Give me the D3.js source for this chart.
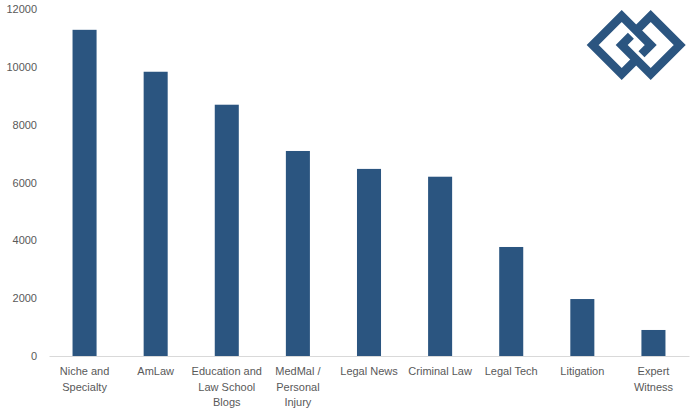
<!DOCTYPE html>
<html>
<head>
<meta charset="utf-8">
<script src="https://cdn.jsdelivr.net/npm/d3@7"></script>
<style>
    body { margin: 0; background: #fff; }
    .axis text { font-family: "Liberation Sans", Arial, sans-serif; font-size: 11px; fill: #595959; }
</style>
</head>
<body>
<div id="chart"></div>
<script>
var categories = ["Niche and\nSpecialty", "AmLaw", "Education and\nLaw School\nBlogs", "MedMal /\nPersonal\nInjury",
    "Legal News", "Criminal Law", "Legal Tech", "Litigation", "Expert\nWitness"];
var values = [11280, 9830, 8690, 7090, 6470, 6200, 3770, 1970, 900];
var yTicks = [0, 2000, 4000, 6000, 8000, 10000, 12000];

var width = 698, height = 411;
var barColor = "#2b5580";

var svg = d3.select("#chart").append("svg")
    .attr("width", width)
    .attr("height", height);

var x = d3.scaleBand()
    .domain(categories)
    .range([49, 689])
    .paddingInner(0.662)
    .paddingOuter(0.331);
var y = d3.scaleLinear()
    .domain([0, 12000])
    .range([356, 9]);

// y axis, labels only
var yAxis = svg.append("g")
    .attr("class", "axis")
    .attr("transform", "translate(49,0)")
    .call(d3.axisLeft(y).tickValues(yTicks).tickSize(0).tickPadding(12).tickFormat(d3.format("d")));
yAxis.select(".domain").remove();

svg.selectAll(".bar")
    .data(values)
    .enter().append("rect")
    .attr("class", "bar")
    .attr("x", function(d, i) { return x(categories[i]); })
    .attr("y", function(d) { return y(d); })
    .attr("width", x.bandwidth())
    .attr("height", function(d) { return y(0) - y(d); })
    .style("fill", barColor);

// x axis with wrapped labels
var xAxis = svg.append("g")
    .attr("class", "axis")
    .attr("transform", "translate(0,356)")
    .call(d3.axisBottom(x).tickSize(0).tickSizeOuter(0));
xAxis.select(".domain").attr("stroke", "#d9d9d9");
xAxis.selectAll(".tick text").each(function(d) {
    var t = d3.select(this).text(null).attr("y", 19).attr("dy", null);
    d.split("\n").forEach(function(line, i) {
        t.append("tspan").attr("x", 0).attr("dy", i ? 15.5 : 0).text(line);
    });
});

// logo: two interlocking diamonds
var logo = svg.append("g")
    .attr("fill", "none")
    .attr("stroke", barColor)
    .attr("stroke-width", 8.5)
    .attr("stroke-linejoin", "miter")
    .attr("stroke-miterlimit", 4);
var line = d3.line();
logo.append("path").attr("d", line([[641.5, 54.2], [650.7, 45], [621.7, 16], [592.7, 45], [621.7, 74], [636.2, 59.5]]));
logo.append("path").attr("d", line([[630.9, 35.8], [621.7, 45], [650.7, 74], [679.7, 45], [650.7, 16], [636.2, 30.5]]));
</script>
</body>
</html>
